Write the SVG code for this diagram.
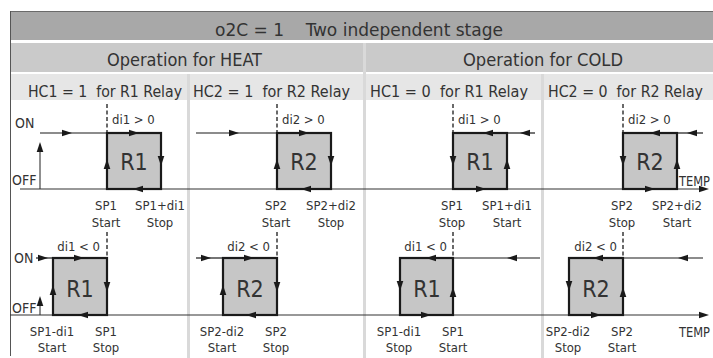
<svg xmlns="http://www.w3.org/2000/svg" width="713" height="358" viewBox="0 0 713 358">
<style>
text{font-family:"Liberation Sans Narrow","DejaVu Sans Condensed","Arial Narrow",sans-serif;fill:#333;white-space:pre}
.h{font-size:17px}
.hc{font-size:16px}
.lb{font-size:13px}
.oo{font-size:14px}
.c{font-size:13px;text-anchor:middle}
.e{font-size:13px;text-anchor:end}
.r{font-size:23px;text-anchor:middle}
.box{fill:#c6c6c6;stroke:#1a1a1a;stroke-width:2.2}
.ln{stroke:#1a1a1a;stroke-width:1.2;fill:none}
.ax{stroke:#333;stroke-width:1.1;fill:none}
.ds{stroke:#1a1a1a;stroke-width:1.3;stroke-dasharray:4 2.5;fill:none}
.sep{fill:#d9d9d9}
.ah{fill:#1a1a1a}
</style>
<defs>
<path id="ar" d="M5,0 L-5,-3.3 L-5,3.3 Z"/>
</defs>
<rect width="713" height="358" fill="#fff"/>
<g id="header">
<rect x="10" y="11" width="703" height="29" fill="#a8a8a8"/>
<line x1="10" y1="11.5" x2="713" y2="11.5" stroke="#6a6a6a" stroke-width="1"/>
<rect x="10" y="43" width="703" height="29" fill="#cacaca"/>
<rect x="10" y="74" width="703" height="26" fill="#e6e6e6"/>
<text class="h" x="215" y="36" textLength="288" lengthAdjust="spacingAndGlyphs">o2C = 1    Two independent stage</text>
<text class="h" x="107" y="66" textLength="155" lengthAdjust="spacingAndGlyphs">Operation for HEAT</text>
<text class="h" x="463" y="66" textLength="160" lengthAdjust="spacingAndGlyphs">Operation for COLD</text>
<text class="hc" x="28" y="97" textLength="154" lengthAdjust="spacingAndGlyphs">HC1 = 1  for R1 Relay</text>
<text class="hc" x="193" y="97" textLength="157" lengthAdjust="spacingAndGlyphs">HC2 = 1  for R2 Relay</text>
<text class="hc" x="370" y="97" textLength="158" lengthAdjust="spacingAndGlyphs">HC1 = 0  for R1 Relay</text>
<text class="hc" x="548" y="97" textLength="155" lengthAdjust="spacingAndGlyphs">HC2 = 0  for R2 Relay</text>
</g>
<g id="separators">
<rect class="sep" x="363" y="43" width="3" height="315"/>
<rect class="sep" x="187" y="74" width="3" height="284"/>
<rect class="sep" x="541" y="74" width="3" height="284"/>
<line x1="10.5" y1="11" x2="10.5" y2="356" stroke="#555" stroke-width="1"/>
</g>
<g id="axes">
<line class="ax" x1="20" y1="189" x2="706" y2="189"/>
<use href="#ar" class="ah" transform="translate(704,189)"/>
<line class="ax" x1="10" y1="315" x2="706" y2="315"/>
<use href="#ar" class="ah" transform="translate(704,315)"/>
<line class="ax" x1="40" y1="189" x2="40" y2="146"/>
<use href="#ar" class="ah" transform="translate(40,147) rotate(-90)"/>
<line class="ax" x1="40" y1="315" x2="40" y2="299"/>
<use href="#ar" class="ah" transform="translate(40,301) rotate(-90)"/>
<text class="oo" x="15" y="128">ON</text>
<text class="oo" x="12" y="185">OFF</text>
<text class="oo" x="14" y="263">ON</text>
<text class="oo" x="12" y="313">OFF</text>
<text class="oo" x="679" y="186" textLength="31" lengthAdjust="spacingAndGlyphs">TEMP</text>
<text class="oo" x="679" y="337" textLength="31" lengthAdjust="spacingAndGlyphs">TEMP</text>
</g>
<g id="heat-r1-top">
<rect class="box" x="107" y="133" width="54" height="56"/>
<text class="r" x="134" y="170">R1</text>
</g>
<g id="heat-r2-top">
<rect class="box" x="277" y="133" width="54" height="56"/>
<text class="r" x="304" y="170">R2</text>
</g>
<g id="cold-r1-top">
<rect class="box" x="453" y="133" width="54" height="56"/>
<text class="r" x="480" y="170">R1</text>
</g>
<g id="cold-r2-top">
<rect class="box" x="623" y="133" width="54" height="56"/>
<text class="r" x="650" y="170">R2</text>
</g>
<g id="heat-r1-bot">
<rect class="box" x="53" y="258" width="54" height="57"/>
<text class="r" x="80" y="297">R1</text>
</g>
<g id="heat-r2-bot">
<rect class="box" x="223" y="258" width="54" height="57"/>
<text class="r" x="250" y="297">R2</text>
</g>
<g id="cold-r1-bot">
<rect class="box" x="400" y="258" width="53" height="57"/>
<text class="r" x="427" y="297">R1</text>
</g>
<g id="cold-r2-bot">
<rect class="box" x="569" y="258" width="54" height="57"/>
<text class="r" x="596" y="297">R2</text>
</g>
<g id="connectors">
<line class="ds" x1="107" y1="104" x2="107" y2="133"/>
<line class="ds" x1="277" y1="104" x2="277" y2="133"/>
<line class="ds" x1="453" y1="104" x2="453" y2="133"/>
<line class="ds" x1="623" y1="104" x2="623" y2="133"/>
<line class="ds" x1="107" y1="232" x2="107" y2="258"/>
<line class="ds" x1="277" y1="232" x2="277" y2="258"/>
<line class="ds" x1="453" y1="232" x2="453" y2="258"/>
<line class="ds" x1="623" y1="232" x2="623" y2="258"/>
<line class="ln" x1="40" y1="133" x2="107" y2="133"/>
<line class="ln" x1="196" y1="133" x2="277" y2="133"/>
<line class="ln" x1="507" y1="133" x2="535" y2="133"/>
<line class="ln" x1="677" y1="133" x2="703" y2="133"/>
<line class="ln" x1="36" y1="258" x2="53" y2="258"/>
<line class="ln" x1="196" y1="258" x2="223" y2="258"/>
<line class="ln" x1="453" y1="258" x2="540" y2="258"/>
<line class="ln" x1="623" y1="258" x2="703" y2="258"/>
<use href="#ar" class="ah" transform="translate(67,133)"/>
<use href="#ar" class="ah" transform="translate(134,133)"/>
<use href="#ar" class="ah" transform="translate(161,161) rotate(90)"/>
<use href="#ar" class="ah" transform="translate(138,189) rotate(180)"/>
<use href="#ar" class="ah" transform="translate(107,164) rotate(-90)"/>
<use href="#ar" class="ah" transform="translate(234,133)"/>
<use href="#ar" class="ah" transform="translate(304,133)"/>
<use href="#ar" class="ah" transform="translate(331,161) rotate(90)"/>
<use href="#ar" class="ah" transform="translate(306,189) rotate(180)"/>
<use href="#ar" class="ah" transform="translate(277,164) rotate(-90)"/>
<use href="#ar" class="ah" transform="translate(525,133) rotate(180)"/>
<use href="#ar" class="ah" transform="translate(488,133) rotate(180)"/>
<use href="#ar" class="ah" transform="translate(453,161) rotate(90)"/>
<use href="#ar" class="ah" transform="translate(481,189)"/>
<use href="#ar" class="ah" transform="translate(507,164) rotate(-90)"/>
<use href="#ar" class="ah" transform="translate(692,133) rotate(180)"/>
<use href="#ar" class="ah" transform="translate(655,133) rotate(180)"/>
<use href="#ar" class="ah" transform="translate(623,161) rotate(90)"/>
<use href="#ar" class="ah" transform="translate(650,189)"/>
<use href="#ar" class="ah" transform="translate(677,164) rotate(-90)"/>
<use href="#ar" class="ah" transform="translate(43,258)"/>
<use href="#ar" class="ah" transform="translate(79,258)"/>
<use href="#ar" class="ah" transform="translate(107,287) rotate(90)"/>
<use href="#ar" class="ah" transform="translate(83,315) rotate(180)"/>
<use href="#ar" class="ah" transform="translate(53,290) rotate(-90)"/>
<use href="#ar" class="ah" transform="translate(206,258)"/>
<use href="#ar" class="ah" transform="translate(249,258)"/>
<use href="#ar" class="ah" transform="translate(277,287) rotate(90)"/>
<use href="#ar" class="ah" transform="translate(251,315) rotate(180)"/>
<use href="#ar" class="ah" transform="translate(223,290) rotate(-90)"/>
<use href="#ar" class="ah" transform="translate(512,258) rotate(180)"/>
<use href="#ar" class="ah" transform="translate(431,258) rotate(180)"/>
<use href="#ar" class="ah" transform="translate(400,286) rotate(90)"/>
<use href="#ar" class="ah" transform="translate(426,315)"/>
<use href="#ar" class="ah" transform="translate(453,292) rotate(-90)"/>
<use href="#ar" class="ah" transform="translate(683,258) rotate(180)"/>
<use href="#ar" class="ah" transform="translate(598,258) rotate(180)"/>
<use href="#ar" class="ah" transform="translate(569,286) rotate(90)"/>
<use href="#ar" class="ah" transform="translate(596,315)"/>
<use href="#ar" class="ah" transform="translate(623,292) rotate(-90)"/>
</g>
<g id="labels">
<text class="lb" x="112" y="124">di1 &gt; 0</text>
<text class="lb" x="282" y="124">di2 &gt; 0</text>
<text class="lb" x="458" y="124">di1 &gt; 0</text>
<text class="lb" x="628" y="124">di2 &gt; 0</text>
<text class="e" x="100" y="251">di1 &lt; 0</text>
<text class="e" x="270" y="251">di2 &lt; 0</text>
<text class="e" x="447" y="251">di1 &lt; 0</text>
<text class="e" x="617" y="251">di2 &lt; 0</text>
<text class="c" x="106" y="210">SP1</text><text class="c" x="106" y="227">Start</text>
<text class="c" x="160" y="210">SP1+di1</text><text class="c" x="160" y="227">Stop</text>
<text class="c" x="276" y="210">SP2</text><text class="c" x="276" y="227">Start</text>
<text class="c" x="331" y="210">SP2+di2</text><text class="c" x="331" y="227">Stop</text>
<text class="c" x="452" y="210">SP1</text><text class="c" x="452" y="227">Stop</text>
<text class="c" x="507" y="210">SP1+di1</text><text class="c" x="507" y="227">Start</text>
<text class="c" x="622" y="210">SP2</text><text class="c" x="622" y="227">Stop</text>
<text class="c" x="677" y="210">SP2+di2</text><text class="c" x="677" y="227">Start</text>
<text class="c" x="52" y="336">SP1-di1</text><text class="c" x="52" y="352">Start</text>
<text class="c" x="106" y="336">SP1</text><text class="c" x="106" y="352">Stop</text>
<text class="c" x="222" y="336">SP2-di2</text><text class="c" x="222" y="352">Start</text>
<text class="c" x="276" y="336">SP2</text><text class="c" x="276" y="352">Stop</text>
<text class="c" x="399" y="336">SP1-di1</text><text class="c" x="399" y="352">Stop</text>
<text class="c" x="453" y="336">SP1</text><text class="c" x="453" y="352">Start</text>
<text class="c" x="568" y="336">SP2-di2</text><text class="c" x="568" y="352">Stop</text>
<text class="c" x="622" y="336">SP2</text><text class="c" x="622" y="352">Start</text>
</g>
</svg>
